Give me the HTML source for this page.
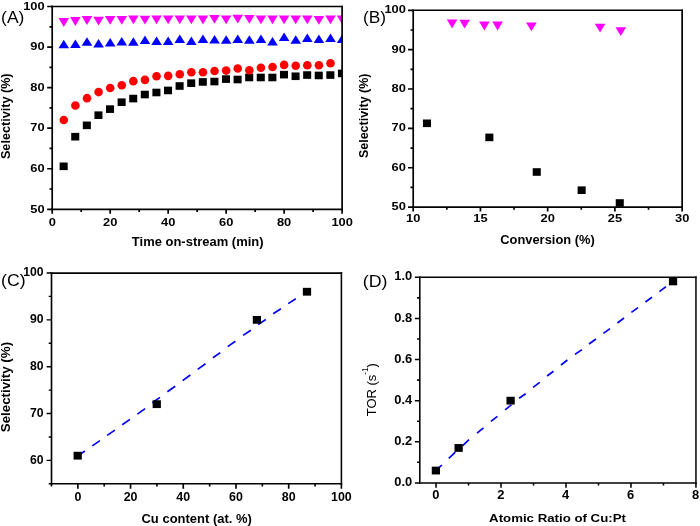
<!DOCTYPE html>
<html><head><meta charset="utf-8"><title>Figure</title>
<style>
html,body{margin:0;padding:0;background:#fff;}
body{width:700px;height:526px;overflow:hidden;}
svg{display:block;font-family:"Liberation Sans",sans-serif;fill:#000;}
</style></head><body>
<svg width="700" height="526" viewBox="0 0 700 526">
<rect width="700" height="526" fill="#fff"/>
<clipPath id="ca"><rect x="52.2" y="6.5" width="289.90000000000003" height="202.8"/></clipPath>
<g clip-path="url(#ca)">
<rect x="59.62" y="162.51" width="8.05" height="7.6" fill="#000"/>
<rect x="71.22" y="132.9" width="8.05" height="7.6" fill="#000"/>
<rect x="82.81" y="121.54" width="8.05" height="7.6" fill="#000"/>
<rect x="94.41" y="111.4" width="8.05" height="7.6" fill="#000"/>
<rect x="106" y="105.32" width="8.05" height="7.6" fill="#000"/>
<rect x="117.6" y="98.42" width="8.05" height="7.6" fill="#000"/>
<rect x="129.2" y="94.77" width="8.05" height="7.6" fill="#000"/>
<rect x="140.79" y="90.72" width="8.05" height="7.6" fill="#000"/>
<rect x="152.39" y="88.69" width="8.05" height="7.6" fill="#000"/>
<rect x="163.99" y="86.66" width="8.05" height="7.6" fill="#000"/>
<rect x="175.58" y="82.2" width="8.05" height="7.6" fill="#000"/>
<rect x="187.18" y="79.36" width="8.05" height="7.6" fill="#000"/>
<rect x="198.77" y="78.14" width="8.05" height="7.6" fill="#000"/>
<rect x="210.37" y="77.74" width="8.05" height="7.6" fill="#000"/>
<rect x="221.97" y="75.3" width="8.05" height="7.6" fill="#000"/>
<rect x="233.56" y="75.71" width="8.05" height="7.6" fill="#000"/>
<rect x="245.16" y="73.68" width="8.05" height="7.6" fill="#000"/>
<rect x="256.75" y="73.68" width="8.05" height="7.6" fill="#000"/>
<rect x="268.35" y="73.68" width="8.05" height="7.6" fill="#000"/>
<rect x="279.95" y="70.84" width="8.05" height="7.6" fill="#000"/>
<rect x="291.54" y="72.46" width="8.05" height="7.6" fill="#000"/>
<rect x="303.14" y="71.25" width="8.05" height="7.6" fill="#000"/>
<rect x="314.73" y="71.65" width="8.05" height="7.6" fill="#000"/>
<rect x="326.33" y="71.25" width="8.05" height="7.6" fill="#000"/>
<rect x="337.93" y="69.62" width="8.05" height="7.6" fill="#000"/>
<circle cx="63.8" cy="120.07" r="4.3" fill="#f00"/>
<circle cx="75.39" cy="105.47" r="4.3" fill="#f00"/>
<circle cx="86.99" cy="98.17" r="4.3" fill="#f00"/>
<circle cx="98.58" cy="92.08" r="4.3" fill="#f00"/>
<circle cx="110.18" cy="88.03" r="4.3" fill="#f00"/>
<circle cx="121.78" cy="85.19" r="4.3" fill="#f00"/>
<circle cx="133.37" cy="81.13" r="4.3" fill="#f00"/>
<circle cx="144.97" cy="79.91" r="4.3" fill="#f00"/>
<circle cx="156.56" cy="76.26" r="4.3" fill="#f00"/>
<circle cx="168.16" cy="75.86" r="4.3" fill="#f00"/>
<circle cx="179.76" cy="74.24" r="4.3" fill="#f00"/>
<circle cx="191.35" cy="72.21" r="4.3" fill="#f00"/>
<circle cx="202.95" cy="72.21" r="4.3" fill="#f00"/>
<circle cx="214.54" cy="70.99" r="4.3" fill="#f00"/>
<circle cx="226.14" cy="70.58" r="4.3" fill="#f00"/>
<circle cx="237.74" cy="68.56" r="4.3" fill="#f00"/>
<circle cx="249.33" cy="70.18" r="4.3" fill="#f00"/>
<circle cx="260.93" cy="67.75" r="4.3" fill="#f00"/>
<circle cx="272.52" cy="66.93" r="4.3" fill="#f00"/>
<circle cx="284.12" cy="64.91" r="4.3" fill="#f00"/>
<circle cx="295.72" cy="65.72" r="4.3" fill="#f00"/>
<circle cx="307.31" cy="65.31" r="4.3" fill="#f00"/>
<circle cx="318.91" cy="65.31" r="4.3" fill="#f00"/>
<circle cx="330.5" cy="63.28" r="4.3" fill="#f00"/>
<path d="M58.5 48.3h10.6L63.8 39.8z" fill="#00f"/>
<path d="M70.09 47.9h10.6L75.39 39.4z" fill="#00f"/>
<path d="M81.69 45.7h10.6L86.99 37.2z" fill="#00f"/>
<path d="M93.28 47.4h10.6L98.58 38.9z" fill="#00f"/>
<path d="M104.88 46.4h10.6L110.18 37.9z" fill="#00f"/>
<path d="M116.48 45.4h10.6L121.78 36.9z" fill="#00f"/>
<path d="M128.07 45.7h10.6L133.37 37.2z" fill="#00f"/>
<path d="M139.67 43.9h10.6L144.97 35.4z" fill="#00f"/>
<path d="M151.26 44.9h10.6L156.56 36.4z" fill="#00f"/>
<path d="M162.86 44.9h10.6L168.16 36.4z" fill="#00f"/>
<path d="M174.46 43.1h10.6L179.76 34.6z" fill="#00f"/>
<path d="M186.05 44.9h10.6L191.35 36.4z" fill="#00f"/>
<path d="M197.65 43.1h10.6L202.95 34.6z" fill="#00f"/>
<path d="M209.24 43.4h10.6L214.54 34.9z" fill="#00f"/>
<path d="M220.84 43.7h10.6L226.14 35.2z" fill="#00f"/>
<path d="M232.44 43.1h10.6L237.74 34.6z" fill="#00f"/>
<path d="M244.03 43.7h10.6L249.33 35.2z" fill="#00f"/>
<path d="M255.63 43h10.6L260.93 34.5z" fill="#00f"/>
<path d="M267.22 45.6h10.6L272.52 37.1z" fill="#00f"/>
<path d="M278.82 41.1h10.6L284.12 32.6z" fill="#00f"/>
<path d="M290.42 43.7h10.6L295.72 35.2z" fill="#00f"/>
<path d="M302.01 42h10.6L307.31 33.5z" fill="#00f"/>
<path d="M313.61 43.1h10.6L318.91 34.6z" fill="#00f"/>
<path d="M325.2 42h10.6L330.5 33.5z" fill="#00f"/>
<path d="M336.8 42.9h10.6L342.1 34.4z" fill="#00f"/>
<path d="M58.5 18.1h10.6L63.8 26.9z" fill="#f0f"/>
<path d="M70.09 17.1h10.6L75.39 25.9z" fill="#f0f"/>
<path d="M81.69 16.1h10.6L86.99 24.9z" fill="#f0f"/>
<path d="M93.28 16.7h10.6L98.58 25.5z" fill="#f0f"/>
<path d="M104.88 16h10.6L110.18 24.8z" fill="#f0f"/>
<path d="M116.48 16h10.6L121.78 24.8z" fill="#f0f"/>
<path d="M128.07 15.4h10.6L133.37 24.2z" fill="#f0f"/>
<path d="M139.67 15.7h10.6L144.97 24.5z" fill="#f0f"/>
<path d="M151.26 15.4h10.6L156.56 24.2z" fill="#f0f"/>
<path d="M162.86 15.4h10.6L168.16 24.2z" fill="#f0f"/>
<path d="M174.46 15.4h10.6L179.76 24.2z" fill="#f0f"/>
<path d="M186.05 15.4h10.6L191.35 24.2z" fill="#f0f"/>
<path d="M197.65 15.6h10.6L202.95 24.4z" fill="#f0f"/>
<path d="M209.24 14.9h10.6L214.54 23.7z" fill="#f0f"/>
<path d="M220.84 15.4h10.6L226.14 24.2z" fill="#f0f"/>
<path d="M232.44 14.7h10.6L237.74 23.5z" fill="#f0f"/>
<path d="M244.03 14.9h10.6L249.33 23.7z" fill="#f0f"/>
<path d="M255.63 15.4h10.6L260.93 24.2z" fill="#f0f"/>
<path d="M267.22 15.4h10.6L272.52 24.2z" fill="#f0f"/>
<path d="M278.82 15.4h10.6L284.12 24.2z" fill="#f0f"/>
<path d="M290.42 15.4h10.6L295.72 24.2z" fill="#f0f"/>
<path d="M302.01 15.4h10.6L307.31 24.2z" fill="#f0f"/>
<path d="M313.61 15.9h10.6L318.91 24.7z" fill="#f0f"/>
<path d="M325.2 15.4h10.6L330.5 24.2z" fill="#f0f"/>
<path d="M336.8 15.4h10.6L342.1 24.2z" fill="#f0f"/>
</g>
<path d="M51.35 6.5H342.95" fill="none" stroke="#000" stroke-width="1.7"/>
<path d="M51.35 209.3H342.95" fill="none" stroke="#000" stroke-width="1.7"/>
<path d="M52.2 5.65V210.15" fill="none" stroke="#000" stroke-width="1.7"/>
<path d="M342.1 5.65V210.15" fill="none" stroke="#000" stroke-width="1.7"/>
<path d="M52.2 209.3h-5.0M52.2 168.74h-5.0M52.2 128.18h-5.0M52.2 87.62h-5.0M52.2 47.06h-5.0M52.2 6.5h-5.0" stroke="#000" stroke-width="1.7" fill="none"/>
<path d="M52.2 189.02h-2.7M52.2 148.46h-2.7M52.2 107.9h-2.7M52.2 67.34h-2.7M52.2 26.78h-2.7" stroke="#000" stroke-width="1.7" fill="none"/>
<path d="M52.2 209.3v4.4M110.18 209.3v4.4M168.16 209.3v4.4M226.14 209.3v4.4M284.12 209.3v4.4M342.1 209.3v4.4" stroke="#000" stroke-width="1.7" fill="none"/>
<path d="M81.19 209.3v2.7M139.17 209.3v2.7M197.15 209.3v2.7M255.13 209.3v2.7M313.11 209.3v2.7" stroke="#000" stroke-width="1.7" fill="none"/>
<text font-size="11.8" font-weight="bold" text-anchor="end" transform="translate(44.6 212.5) scale(1.09 1)">50</text>
<text font-size="11.8" font-weight="bold" text-anchor="end" transform="translate(44.6 171.94) scale(1.09 1)">60</text>
<text font-size="11.8" font-weight="bold" text-anchor="end" transform="translate(44.6 131.38) scale(1.09 1)">70</text>
<text font-size="11.8" font-weight="bold" text-anchor="end" transform="translate(44.6 90.82) scale(1.09 1)">80</text>
<text font-size="11.8" font-weight="bold" text-anchor="end" transform="translate(44.6 50.26) scale(1.09 1)">90</text>
<text font-size="11.8" font-weight="bold" text-anchor="end" transform="translate(44.6 9.7) scale(1.09 1)">100</text>
<text font-size="11.8" font-weight="bold" text-anchor="middle" transform="translate(52.2 225.7) scale(1.09 1)">0</text>
<text font-size="11.8" font-weight="bold" text-anchor="middle" transform="translate(110.18 225.7) scale(1.09 1)">20</text>
<text font-size="11.8" font-weight="bold" text-anchor="middle" transform="translate(168.16 225.7) scale(1.09 1)">40</text>
<text font-size="11.8" font-weight="bold" text-anchor="middle" transform="translate(226.14 225.7) scale(1.09 1)">60</text>
<text font-size="11.8" font-weight="bold" text-anchor="middle" transform="translate(284.12 225.7) scale(1.09 1)">80</text>
<text font-size="11.8" font-weight="bold" text-anchor="middle" transform="translate(342.1 225.7) scale(1.09 1)">100</text>
<text font-size="12" font-weight="bold" text-anchor="middle" transform="translate(197.72 245.6) scale(1.0818 1)">Time on-stream (min)</text>
<text font-size="12" font-weight="bold" text-anchor="middle" transform="translate(10 116.25) rotate(-90) scale(1.0530 1)">Selectivity (%)</text>
<text font-size="16.3" font-weight="normal" text-anchor="start" transform="translate(1.1 22.5) scale(1.07 1)">(A)</text>
<clipPath id="cb"><rect x="413.2" y="10.3" width="268.95" height="196.79999999999998"/></clipPath>
<g clip-path="url(#cb)">
<rect x="422.93" y="119.5" width="8.05" height="7.6" fill="#000"/>
<rect x="485.33" y="133.6" width="8.05" height="7.6" fill="#000"/>
<rect x="532.73" y="168.2" width="8.05" height="7.6" fill="#000"/>
<rect x="577.62" y="186.4" width="8.05" height="7.6" fill="#000"/>
<rect x="615.73" y="199.2" width="8.05" height="7.6" fill="#000"/>
</g>
<path d="M446.8 19.4h10.6L452.1 28.2z" fill="#f0f"/>
<path d="M459.3 19.7h10.6L464.6 28.5z" fill="#f0f"/>
<path d="M479.1 21.6h10.6L484.4 30.4z" fill="#f0f"/>
<path d="M492.3 21.6h10.6L497.6 30.4z" fill="#f0f"/>
<path d="M526.1 22.4h10.6L531.4 31.2z" fill="#f0f"/>
<path d="M594.8 23.7h10.6L600.1 32.5z" fill="#f0f"/>
<path d="M615.5 27.3h10.6L620.8 36.1z" fill="#f0f"/>
<path d="M412.35 10.3H683" fill="none" stroke="#000" stroke-width="1.4"/>
<path d="M412.35 207.1H683" fill="none" stroke="#000" stroke-width="1.7"/>
<path d="M413.2 9.6V207.95" fill="none" stroke="#000" stroke-width="1.7"/>
<path d="M682.15 9.6V207.95" fill="none" stroke="#000" stroke-width="1.7"/>
<path d="M413.2 207.1h-5.2M413.2 167.74h-5.2M413.2 128.38h-5.2M413.2 89.02h-5.2M413.2 49.66h-5.2M413.2 10.3h-5.2" stroke="#000" stroke-width="1.7" fill="none"/>
<path d="M413.2 187.42h-2.7M413.2 148.06h-2.7M413.2 108.7h-2.7M413.2 69.34h-2.7M413.2 29.98h-2.7" stroke="#000" stroke-width="1.7" fill="none"/>
<path d="M413.2 207.1v4.4M480.44 207.1v4.4M547.67 207.1v4.4M614.91 207.1v4.4M682.15 207.1v4.4" stroke="#000" stroke-width="1.7" fill="none"/>
<path d="M446.82 207.1v2.7M514.06 207.1v2.7M581.29 207.1v2.7M648.53 207.1v2.7" stroke="#000" stroke-width="1.7" fill="none"/>
<text font-size="11.8" font-weight="bold" text-anchor="end" transform="translate(405.9 210.2) scale(1.09 1)">50</text>
<text font-size="11.8" font-weight="bold" text-anchor="end" transform="translate(405.9 170.84) scale(1.09 1)">60</text>
<text font-size="11.8" font-weight="bold" text-anchor="end" transform="translate(405.9 131.48) scale(1.09 1)">70</text>
<text font-size="11.8" font-weight="bold" text-anchor="end" transform="translate(405.9 92.12) scale(1.09 1)">80</text>
<text font-size="11.8" font-weight="bold" text-anchor="end" transform="translate(405.9 52.76) scale(1.09 1)">90</text>
<text font-size="11.8" font-weight="bold" text-anchor="end" transform="translate(405.9 13.4) scale(1.09 1)">100</text>
<text font-size="11.8" font-weight="bold" text-anchor="middle" transform="translate(413.2 222.3) scale(1.09 1)">10</text>
<text font-size="11.8" font-weight="bold" text-anchor="middle" transform="translate(480.44 222.3) scale(1.09 1)">15</text>
<text font-size="11.8" font-weight="bold" text-anchor="middle" transform="translate(547.67 222.3) scale(1.09 1)">20</text>
<text font-size="11.8" font-weight="bold" text-anchor="middle" transform="translate(614.91 222.3) scale(1.09 1)">25</text>
<text font-size="11.8" font-weight="bold" text-anchor="middle" transform="translate(682.15 222.3) scale(1.09 1)">30</text>
<text font-size="12" font-weight="bold" text-anchor="middle" transform="translate(547.50 243.7) scale(1.0759 1)">Conversion (%)</text>
<text font-size="12" font-weight="bold" text-anchor="middle" transform="translate(368.2 115.80) rotate(-90) scale(1.0405 1)">Selectivity (%)</text>
<text font-size="16.6" font-weight="normal" text-anchor="start" transform="translate(362.9 22.8) scale(1.045 1)">(B)</text>
<path d="M77.6 456.1L84.9 451M92.3 445.9L99.9 440.6M107.1 435.4L114.9 430.1M122.2 424.8L130 419.4M137.4 414.1L145.1 408.6M152.3 402.8L160 397.4M167.4 391.7L175.2 386.2M182.6 380.6L190.3 375M197.7 369.4L205.5 363.7M212.9 357.8L220.3 352.6M227.7 346.6L235.4 341.3M243.1 335.4L250.8 330.2M258.2 324.6L265.8 319.5M273.2 313.8L280.9 308.8M288.2 303.6L295.8 298.7M303.2 294L307.3 291.4" stroke="#00f" stroke-width="1.7" fill="none"/>
<rect x="73.58" y="451.79" width="8.25" height="7.8" fill="#000"/>
<rect x="152.64" y="400.26" width="8.25" height="7.8" fill="#000"/>
<rect x="252.79" y="315.94" width="8.25" height="7.8" fill="#000"/>
<rect x="302.86" y="287.84" width="8.25" height="7.8" fill="#000"/>
<path d="M50.67 273H342.17" fill="none" stroke="#000" stroke-width="1.75"/>
<path d="M50.67 483.8H342.17" fill="none" stroke="#000" stroke-width="1.4"/>
<path d="M51.5 272.12V484.5" fill="none" stroke="#000" stroke-width="1.65"/>
<path d="M341.4 272.12V484.5" fill="none" stroke="#000" stroke-width="1.55"/>
<path d="M51.5 460.38h-4.9M51.5 413.53h-4.9M51.5 366.69h-4.9M51.5 319.84h-4.9M51.5 273h-4.9" stroke="#000" stroke-width="1.4" fill="none"/>
<path d="M51.5 483.8h-2.8M51.5 436.96h-2.8M51.5 390.11h-2.8M51.5 343.27h-2.8M51.5 296.42h-2.8" stroke="#000" stroke-width="1.4" fill="none"/>
<path d="M77.85 483.8v4.9M130.56 483.8v4.9M183.27 483.8v4.9M235.98 483.8v4.9M288.69 483.8v4.9M341.4 483.8v4.9" stroke="#000" stroke-width="1.65" fill="none"/>
<path d="M51.5 483.8v2.8M104.21 483.8v2.8M156.92 483.8v2.8M209.63 483.8v2.8M262.34 483.8v2.8M315.05 483.8v2.8" stroke="#000" stroke-width="1.65" fill="none"/>
<text font-size="12.2" font-weight="bold" text-anchor="end" transform="translate(43.6 463.73) scale(1.0 1)">60</text>
<text font-size="12.2" font-weight="bold" text-anchor="end" transform="translate(43.6 416.88) scale(1.0 1)">70</text>
<text font-size="12.2" font-weight="bold" text-anchor="end" transform="translate(43.6 370.04) scale(1.0 1)">80</text>
<text font-size="12.2" font-weight="bold" text-anchor="end" transform="translate(43.6 323.19) scale(1.0 1)">90</text>
<text font-size="12.2" font-weight="bold" text-anchor="end" transform="translate(43.6 276.35) scale(1.0 1)">100</text>
<text font-size="12.2" font-weight="bold" text-anchor="middle" transform="translate(77.85 501) scale(1.02 1)">0</text>
<text font-size="12.2" font-weight="bold" text-anchor="middle" transform="translate(130.56 501) scale(1.02 1)">20</text>
<text font-size="12.2" font-weight="bold" text-anchor="middle" transform="translate(183.27 501) scale(1.02 1)">40</text>
<text font-size="12.2" font-weight="bold" text-anchor="middle" transform="translate(235.98 501) scale(1.02 1)">60</text>
<text font-size="12.2" font-weight="bold" text-anchor="middle" transform="translate(288.69 501) scale(1.02 1)">80</text>
<text font-size="12.2" font-weight="bold" text-anchor="middle" transform="translate(341.4 501) scale(1.02 1)">100</text>
<text font-size="12" font-weight="bold" text-anchor="middle" transform="translate(196.67 522.9) scale(1.0819 1)">Cu content (at. %)</text>
<text font-size="12" font-weight="bold" text-anchor="middle" transform="translate(10.1 387.10) rotate(-90) scale(1.1115 1)">Selectivity (%)</text>
<text font-size="16.6" font-weight="normal" text-anchor="start" transform="translate(1 285.9) scale(1.065 1)">(C)</text>
<path d="M435.9 470.6L441.9 465M448.8 458.4L455.3 452.2M462.7 445.6L469 439.6M477 433.2L483.5 427.9M490.9 421.4L497.4 416.3M505.1 409.8L511.4 404.9M519.1 398.3L525.7 393.7M533.1 387.4L539.7 382.3M547.1 376L553.5 371.2M561 365L567.4 360M575 354.4L582 349.6M589 344L596 339M603.4 333.4L610 328.6M617.4 323L624 318M631.4 312.4L638 307.6M645.4 302L652 297.3M659.4 291.6L666 286.6M673.3 281.2L674 280.7" stroke="#00f" stroke-width="1.7" fill="none"/>
<rect x="431.77" y="466.66" width="8.25" height="7.8" fill="#000"/>
<rect x="454.51" y="444.05" width="8.25" height="7.8" fill="#000"/>
<rect x="506.49" y="396.76" width="8.25" height="7.8" fill="#000"/>
<rect x="668.93" y="277.51" width="8.25" height="7.8" fill="#000"/>
<path d="M419.03 277.3H696.7" fill="none" stroke="#000" stroke-width="1.55"/>
<path d="M419.03 482.9H696.7" fill="none" stroke="#000" stroke-width="1.55"/>
<path d="M419.8 276.53V483.67" fill="none" stroke="#000" stroke-width="1.55"/>
<path d="M695.95 276.53V483.67" fill="none" stroke="#000" stroke-width="1.5"/>
<path d="M419.8 482.9h-4.9M419.8 441.78h-4.9M419.8 400.66h-4.9M419.8 359.54h-4.9M419.8 318.42h-4.9M419.8 277.3h-4.9" stroke="#000" stroke-width="1.55" fill="none"/>
<path d="M419.8 462.34h-2.7M419.8 421.22h-2.7M419.8 380.1h-2.7M419.8 338.98h-2.7M419.8 297.86h-2.7" stroke="#000" stroke-width="1.55" fill="none"/>
<path d="M436.04 482.9v4.9M501.02 482.9v4.9M566 482.9v4.9M630.97 482.9v4.9M695.95 482.9v4.9" stroke="#000" stroke-width="1.55" fill="none"/>
<path d="M468.53 482.9v2.7M533.51 482.9v2.7M598.49 482.9v2.7M663.46 482.9v2.7" stroke="#000" stroke-width="1.55" fill="none"/>
<text font-size="12.3" font-weight="bold" text-anchor="end" transform="translate(412.2 486) scale(1.05 1)">0.0</text>
<text font-size="12.3" font-weight="bold" text-anchor="end" transform="translate(412.2 444.88) scale(1.05 1)">0.2</text>
<text font-size="12.3" font-weight="bold" text-anchor="end" transform="translate(412.2 403.76) scale(1.05 1)">0.4</text>
<text font-size="12.3" font-weight="bold" text-anchor="end" transform="translate(412.2 362.64) scale(1.05 1)">0.6</text>
<text font-size="12.3" font-weight="bold" text-anchor="end" transform="translate(412.2 321.52) scale(1.05 1)">0.8</text>
<text font-size="12.3" font-weight="bold" text-anchor="end" transform="translate(412.2 280.4) scale(1.05 1)">1.0</text>
<text font-size="12.3" font-weight="bold" text-anchor="middle" transform="translate(435.74 499.3) scale(1.05 1)">0</text>
<text font-size="12.3" font-weight="bold" text-anchor="middle" transform="translate(500.72 499.3) scale(1.05 1)">2</text>
<text font-size="12.3" font-weight="bold" text-anchor="middle" transform="translate(565.7 499.3) scale(1.05 1)">4</text>
<text font-size="12.3" font-weight="bold" text-anchor="middle" transform="translate(630.67 499.3) scale(1.05 1)">6</text>
<text font-size="12.3" font-weight="bold" text-anchor="middle" transform="translate(695.65 499.3) scale(1.05 1)">8</text>
<text font-size="11.6" font-weight="bold" text-anchor="middle" transform="translate(557.50 522) scale(1.1430 1)">Atomic Ratio of Cu:Pt</text>
<text font-size="13.6" font-weight="normal" text-anchor="middle" transform="translate(376.3 389.7) rotate(-90) scale(0.955 1)">TOR (s<tspan font-size="8.6" dy="-7.9">-1</tspan><tspan dy="7.9">)</tspan></text>
<text font-size="16.6" font-weight="normal" text-anchor="start" transform="translate(362.8 286.8) scale(1.075 1)">(D)</text>
</svg>
</body></html>
